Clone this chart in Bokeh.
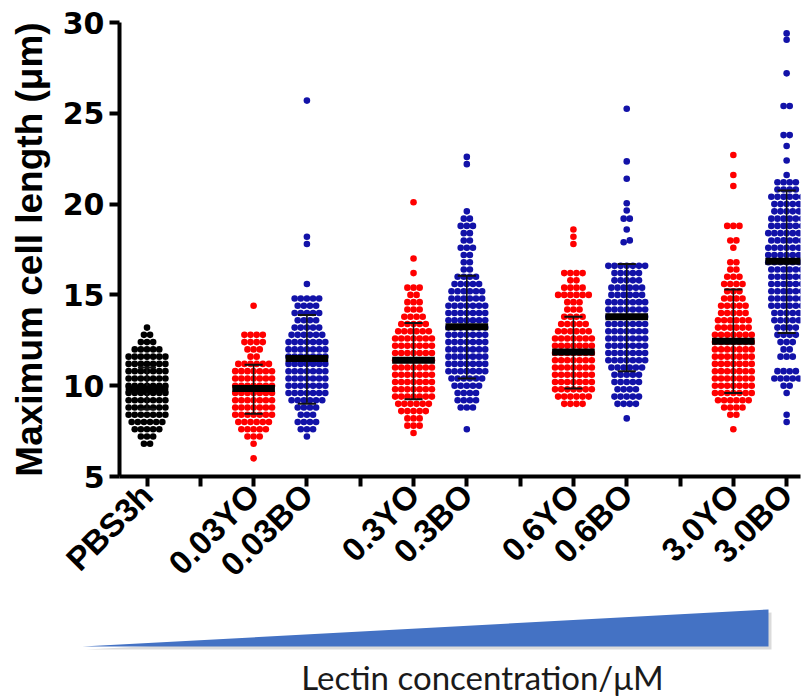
import numpy as np
from bokeh.plotting import figure
from bokeh.layouts import column
from bokeh.models import FixedTicker, Range1d, ColumnDataSource
from bokeh.embed import file_html
from bokeh.resources import INLINE
from bokeh.core.properties import value

# ---------------- data ----------------
groups = ["PBS3h", "0.03YO", "0.03BO", "0.3YO", "0.3BO", "0.6YO", "0.6BO", "3.0YO", "3.0BO"]
group_colors = ["#000000", "#FF0000", "#1212A8", "#FF0000", "#1212A8",
                "#FF0000", "#1212A8", "#FF0000", "#1212A8"]

BIN = 0.4  # um, width of one row of dots
# lowest row value of each group, then number of dots per row (upwards)
row_start = [6.8, 6.0, 7.2, 7.4, 7.6, 9.0, 8.2, 7.6, 8.0]
counts_PBS3h = [2, 3, 5, 6, 7, 7, 7, 7, 7, 7, 7, 7, 7, 5, 3, 2, 1]
counts_003YO = [1, 0, 1, 3, 5, 6, 7, 7, 7, 7, 7, 7, 7, 6, 2, 3, 4, 4, 0, 0, 0, 1]
counts_003BO = [1, 3, 4, 3, 4, 6, 7, 7, 7, 7, 7, 7, 7, 7, 6, 5, 4, 5, 4, 5, 0, 1]
counts_03YO = [1, 3, 3, 5, 6, 7, 7, 7, 7, 7, 7, 7, 7, 7, 6, 5, 4, 3, 3, 2, 3, 0, 1, 0, 1]
counts_03BO = [1, 0, 0, 3, 4, 4, 5, 6, 7, 7, 7, 7, 7, 7, 7, 7, 7, 7, 6, 6, 5, 4, 2, 2, 2,
               3, 2, 2, 3, 2, 1]
counts_06YO = [4, 6, 7, 7, 7, 7, 7, 7, 7, 7, 6, 5, 4, 3, 3, 6, 4, 2, 4, 0, 0, 0, 1, 1, 1]
counts_06BO = [1, 0, 4, 5, 4, 5, 5, 6, 7, 7, 7, 7, 7, 7, 7, 7, 7, 6, 6, 5, 5, 7]
counts_30YO = [1, 0, 2, 4, 6, 7, 7, 7, 7, 7, 7, 7, 7, 7, 6, 6, 5, 5, 4, 3, 4, 3, 2, 2, 0,
               1, 2, 0, 3]
counts_30BO = [1, 1, 0, 0, 1, 2, 5, 4, 0, 3, 2, 3, 4, 4, 5, 5, 6, 6, 6, 6, 6, 6, 7, 7, 7,
               6, 7, 6, 6, 5, 5, 6, 4, 4, 1]
all_counts = [counts_PBS3h, counts_003YO, counts_003BO, counts_03YO, counts_03BO,
              counts_06YO, counts_06BO, counts_30YO, counts_30BO]

# isolated high values
outliers = [[], [], [17.8, 18.2, 25.7], [20.1], [22.2, 22.6],
            [], [17.9, 18.0, 18.6, 19.2, 19.2, 19.65, 20.05, 21.4, 22.35, 25.25],
            [21.0, 21.6, 22.7],
            [22.4, 23.2, 23.8, 23.8, 25.4, 25.4, 27.2, 29.05, 29.4]]

means = [9.8, 9.85, 11.5, 11.4, 13.25, 11.85, 13.8, 12.45, 16.85]
sd_low = [8.7, 8.45, 9.0, 9.25, 10.4, 9.85, 10.8, 9.6, 12.9]
sd_high = [11.0, 11.15, 13.9, 13.45, 16.05, 13.8, 16.7, 15.3, 20.75]

y_ticks = [5, 10, 15, 20, 25, 30]
y_title = "Maximum cell length (\u03bcm)"
bottom_title = "Lectin concentration/\u03bcM"

# ---------------- layout helpers ----------------
# PBS3h alone, then YO/BO pairs separated by one empty slot
slots = [1]
for k in range(4):
    slots += [3 + 3 * k, 4 + 3 * k]
DX = 0.115

xs, ys, cs = [], [], []
for gi in range(len(groups)):
    s = slots[gi]
    for i, n in enumerate(all_counts[gi]):
        yv = row_start[gi] + i * BIN
        for k in range(n):
            xs.append(s + (k - (n - 1) / 2) * DX)
            ys.append(yv)
            cs.append(group_colors[gi])
    clusters = []
    for v in sorted(outliers[gi]):
        if clusters and v - clusters[-1][-1] < 0.25:
            clusters[-1].append(v)
        else:
            clusters.append([v])
    for c in clusters:
        n = len(c)
        for k, v in enumerate(c):
            xs.append(s + (k - (n - 1) / 2) * DX)
            ys.append(v)
            cs.append(group_colors[gi])

W = 803
H1 = 600
H2 = 98

p = figure(width=W, height=H1, x_range=Range1d(0.484, 13.26), y_range=Range1d(5, 30),
           output_backend="svg", toolbar_location=None,
           min_border_left=119, min_border_right=3, min_border_top=22, min_border_bottom=124)
p.frame_align = False

p.scatter(x=xs, y=ys, size=6.6, fill_color=cs, line_color=None)

src = ColumnDataSource(dict(
    x=slots, m=means, lo=sd_low, hi=sd_high,
    xl=[s - 0.4 for s in slots], xr=[s + 0.4 for s in slots],
    cl=[s - 0.17 for s in slots], cr=[s + 0.17 for s in slots]))
p.segment(x0="x", x1="x", y0="lo", y1="hi", source=src, line_color="#111111", line_width=1.6)
p.segment(x0="cl", x1="cr", y0="lo", y1="lo", source=src, line_color="#111111", line_width=2)
p.segment(x0="cl", x1="cr", y0="hi", y1="hi", source=src, line_color="#111111", line_width=2)
p.segment(x0="xl", x1="xr", y0="m", y1="m", source=src, line_color="#000000", line_width=7)

p.xaxis.ticker = FixedTicker(ticks=list(range(1, 14)))
p.xaxis.major_label_overrides = {t: "" for t in range(1, 14)}
for s, g in zip(slots, groups):
    p.xaxis.major_label_overrides[s] = g
p.xaxis.major_label_orientation = np.pi / 4
p.yaxis.ticker = FixedTicker(ticks=y_ticks)

for ax in (p.xaxis[0], p.yaxis[0]):
    ax.axis_line_width = 4
    ax.axis_line_color = "black"
    ax.major_tick_line_width = 4
    ax.major_tick_line_color = "black"
    ax.major_tick_out = 10
    ax.major_tick_in = 0
    ax.minor_tick_line_color = None
    ax.major_label_text_font_style = "bold"
    ax.major_label_text_color = "black"

p.xaxis.major_label_text_font = "Liberation Sans"
p.xaxis.major_label_text_font_size = "33px"
p.xaxis.major_label_standoff = 3
p.yaxis.major_label_text_font = "DejaVu Sans"
p.yaxis.major_label_text_font_size = "30px"
p.yaxis.axis_label = y_title
p.yaxis.axis_label_text_font = "Liberation Sans"
p.yaxis.axis_label_text_font_style = "bold"
p.yaxis.axis_label_text_font_size = "37px"
p.yaxis.axis_label_text_color = "black"
p.yaxis.axis_label_standoff = 10
p.grid.visible = False
p.outline_line_color = None

# lower panel: concentration wedge and caption
p2 = figure(width=W, height=H2, x_range=Range1d(0, W), y_range=Range1d(H2, 0),
            output_backend="svg", toolbar_location=None,
            x_axis_location=None, y_axis_location=None,
            min_border_left=0, min_border_right=0, min_border_top=0, min_border_bottom=0)
p2.frame_align = False
p2.grid.visible = False
p2.outline_line_color = None
p2.patch(x=[86, 771, 771], y=[49, 12, 49], fill_color="#999999", fill_alpha=0.35, line_color=None)
p2.patch(x=[82, 768, 768], y=[46, 9, 46], fill_color="#4472C4", line_color=None)
p2.text(x=[482], y=[76], text=[bottom_title], text_font=value("Lato"),
        text_font_size="33px", text_align="center", text_baseline="middle",
        text_color="#1a1a1a")

layout = column(p, p2, spacing=0)
open("out.html", "w").write(file_html(layout, INLINE))
